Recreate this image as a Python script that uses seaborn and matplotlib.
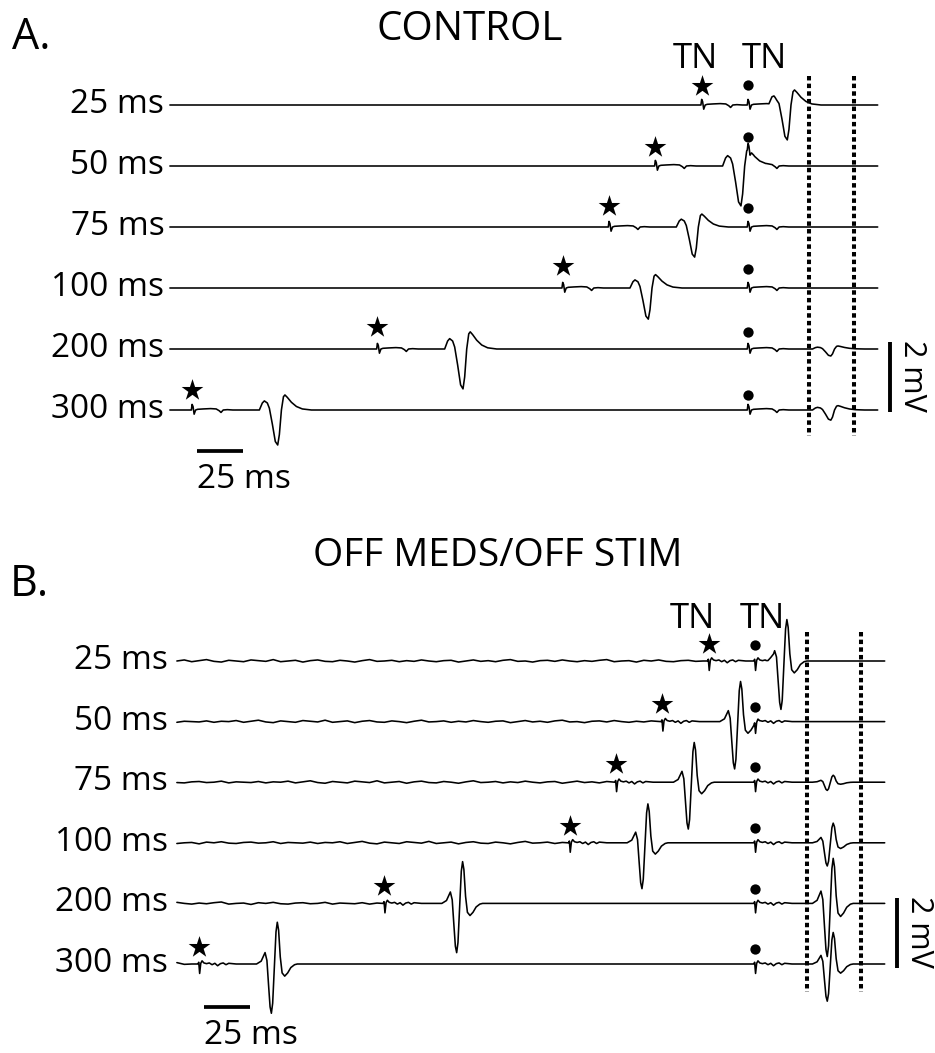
import numpy as np
import pandas as pd
import matplotlib
matplotlib.use("Agg")
import matplotlib.pyplot as plt
import seaborn as sns

sns.set_theme(style="white")
plt.rcParams['font.family'] = ['Open Sans', 'DejaVu Sans']
plt.rcParams['text.color'] = 'black'

# ---------------------------------------------------------------- data
row_labels = ["25 ms", "50 ms", "75 ms", "100 ms", "200 ms", "300 ms"]
isi_ms = [25, 50, 75, 100, 200, 300]          # conditioning stimulus at -isi, test at 0

# stimulus artifact templates (ms after stimulus, mV)
artA_t = [-0.4, 0.0, 0.5, 1.1, 1.9, 3.0, 6.0, 10.0, 13.0, 14.6, 15.6, 16.8, 19.0, 22.0]
artA_v = [0.0, 0.16, 0.10, -0.12, 0.0, 0.02, 0.03, 0.04, 0.03, -0.02, -0.07, 0.0, 0.01, 0.0]
artB_t = [-0.6, -0.2, 0.3, 0.9, 1.6, 2.6, 4.0, 5.5, 7.0, 8.5, 10.0, 11.5, 13.0, 14.5, 16.0, 18.0, 20.0]
artB_v = [0.0, 0.05, -0.27, 0.02, 0.09, 0.03, 0.01, 0.03, -0.02, 0.02, -0.05, 0.01, 0.03, -0.02, 0.02, 0.01, 0.0]

# evoked response templates (ms after stimulus, mV)
respA_t = [36.3, 37.9, 39.0, 40.6, 41.7, 43.3, 44.9, 46.2, 47.1, 48.2, 49.3, 50.1, 51.4, 53.6, 56.3, 59.5, 64.4]
respA_v = [0.0, 0.20, 0.26, 0.20, 0.05, -0.40, -0.90, -1.0, -0.70, 0.0, 0.38, 0.43, 0.36, 0.22, 0.10, 0.03, 0.0]
respB_t = [31.0, 33.5, 35.6, 36.6, 37.5, 38.3, 39.0, 39.7, 40.6, 41.5, 42.2, 42.9, 43.8, 44.8, 46.2, 47.8, 49.5, 51.5, 53.0]
respB_v = [0.0, 0.08, 0.32, 0.10, -0.60, -1.20, -1.38, -1.10, -0.10, 0.90, 1.17, 0.95, 0.20, -0.25, -0.34, -0.25, -0.10, -0.02, 0.0]

# response amplitude per row (first = conditioning, second = test)
A_amp1 = [1.0, 1.14, 0.86, 0.89, 1.14, 1.0]
A_amp2 = [0.0, 0.0, 0.0, 0.0, 0.20, 0.29]
B_amp1 = [1.0, 0.98, 0.97, 0.95, 1.02, 1.02]
B_amp2 = [0.0, 0.0, 0.17, 0.48, 1.10, 0.77]

# marker heights above baseline (mV)
A_star_h = [0.54, 0.54, 0.60, 0.63, 0.63, 0.57]
A_dot_h = [0.57, 0.84, 0.54, 0.54, 0.50, 0.43]
B_star_h = [0.50, 0.50, 0.51, 0.47, 0.49, 0.50]
B_dot_h = [0.46, 0.43, 0.43, 0.42, 0.40, 0.42]

# baseline noise in panel B (every 4 ms from -312 ms, hundredths of mV)
noiseB_cmv = [0, 3, -2, 1, 4, -1, -3, 2, 0, -2, 3, 1, -1, 4, -2, 0, 2, -3, 1, 3,
              -1, -2, 2, 0, -3, 1, 4, -1, 0, 2, -2, 1, -1, 3, 0, -2, 1, 2, -3, 0,
              3, -1, 1, -2, 2, 4, -1, 0, -3, 1, 2, -1, 3, 0, -2, 1, -1, 2, 4, -2,
              0, 1, -3, 2, 0, 3, -1, -2, 1, 2, -1, 0, 3, -2, 1, 0, -1, 2, -2, 1]

# analysis window (dotted lines, ms after test stimulus)
A_window = [32.9, 57.2]
B_window = [27.9, 57.0]

# ---------------------------------------------------------------- layout
W, H = 935, 1053
PX_MS, PX_MV = 1.853, 35.0
XLIM, YLIM = (-330, 92), (-11.2, 2.2)
T0, T1 = -312.0, 70.0

fig = plt.figure(figsize=(W / 100, H / 100), dpi=100)


def panel_axes(x0_px, base0_px):
    left = x0_px + XLIM[0] * PX_MS
    right = x0_px + XLIM[1] * PX_MS
    top = base0_px - YLIM[1] * PX_MV
    bot = base0_px - YLIM[0] * PX_MV
    ax = fig.add_axes([left / W, 1 - bot / H, (right - left) / W, (bot - top) / H])
    ax.set_xlim(*XLIM)
    ax.set_ylim(*YLIM)
    ax.set_axis_off()
    return ax


def build_trace(stim1, amp1, amp2, art_t, art_v, resp_t, resp_v, lat2=0.0, noise=None):
    art_t, art_v = np.asarray(art_t), np.asarray(art_v)
    resp_t, resp_v = np.asarray(resp_t), np.asarray(resp_v)
    comps = [(art_t + stim1, art_v), (art_t, art_v), (resp_t + stim1, amp1 * resp_v)]
    if amp2 > 0:
        comps.append((resp_t + lat2, amp2 * resp_v))
    if noise is not None:
        comps.append(noise)
    ts = np.unique(np.concatenate([[T0, T1]] + [c[0] for c in comps]))
    ts = ts[(ts >= T0) & (ts <= T1)]
    vs = np.zeros_like(ts)
    for ct, cv in comps:
        vs = vs + np.interp(ts, ct, cv, left=0.0, right=0.0)
    return ts, vs


def draw_panel(ax, gap, art_t, art_v, resp_t, resp_v, amp1, amp2, star_h, dot_h,
               window, lat2, use_noise, label_x, tn_x, tn_y, shift):
    frames = []
    for i, isi in enumerate(isi_ms):
        off = -i * gap
        noise = None
        if use_noise:
            nt = T0 + 4.0 * np.arange(len(noiseB_cmv))
            nv = np.roll(np.asarray(noiseB_cmv, float) / 100.0, i * 7)
            keep = nt < -isi - 2
            noise = (np.append(nt[keep], -isi - 1.0), np.append(nv[keep], 0.0))
        ts, vs = build_trace(-isi, amp1[i], amp2[i], art_t, art_v, resp_t, resp_v,
                             lat2=lat2, noise=noise)
        frames.append(pd.DataFrame({"t": ts, "v": vs + off, "row": i}))
        ax.text(label_x, off - 0.23, row_labels[i], ha="right", va="baseline",
                fontsize=24, clip_on=False)
    df = pd.concat(frames, ignore_index=True)
    sns.lineplot(data=df, x="t", y="v", units="row", estimator=None, sort=False,
                 color="black", linewidth=1.15, ax=ax, legend=False)
    offs = [-i * gap for i in range(len(isi_ms))]
    stars = pd.DataFrame({"t": [-x for x in isi_ms],
                          "v": [o + h for o, h in zip(offs, star_h)]})
    dots = pd.DataFrame({"t": [0.0] * len(isi_ms),
                         "v": [o + h for o, h in zip(offs, dot_h)]})
    sns.scatterplot(data=stars, x="t", y="v", marker="*", s=270, color="black",
                    linewidth=0, ax=ax, legend=False)
    sns.scatterplot(data=dots, x="t", y="v", marker="o", s=55, color="black",
                    linewidth=0, ax=ax, legend=False)
    for w in window:
        ax.plot([w, w], [0.83, -9.45], color="black", lw=2.9,
                linestyle=(0, (1.1, 0.8)), solid_capstyle="butt")
    # scale bars
    ax.plot([-297.6, -272.6], [-9.886, -9.886], color="black", lw=2.7,
            solid_capstyle="butt")
    ax.text(-297.6, -10.95, "25 ms", ha="left", va="baseline", fontsize=24,
            clip_on=False)
    vx = 76.8 + shift
    ax.plot([vx, vx], [-6.78, -8.78], color="black", lw=2.8, solid_capstyle="butt")
    ax.text(vx + 11.6, -7.75, "2 mV", rotation=270, ha="center", va="center",
            fontsize=22, clip_on=False)
    for x in tn_x:
        ax.text(x, tn_y, "TN", ha="center", va="baseline", fontsize=25,
                clip_on=False)


axA = panel_axes(748, 105)
draw_panel(axA, 61 / PX_MV, artA_t, artA_v, respA_t, respA_v, A_amp1, A_amp2,
           A_star_h, A_dot_h, A_window, -1.5, False, -315, [-28.6, 8.6], 1.06, 0.0)

axB = panel_axes(755, 661)
draw_panel(axB, 60.6 / PX_MV, artB_t, artB_v, respB_t, respB_v, B_amp1, B_amp2,
           B_star_h, B_dot_h, B_window, 0.0, True, -317, [-33.7, 4.0], 0.94, 0.0)

# panel letters and titles
fig.text(12 / W, 1 - 49 / H, "A.", fontsize=31, ha="left", va="baseline")
fig.text(470 / W, 1 - 40 / H, "CONTROL", fontsize=29, ha="center", va="baseline")
fig.text(10 / W, 1 - 596 / H, "B.", fontsize=31, ha="left", va="baseline")
fig.text(498 / W, 1 - 566 / H, "OFF MEDS/OFF STIM", fontsize=28, ha="center",
         va="baseline")

fig.savefig("out.png", dpi=100, facecolor="white")
